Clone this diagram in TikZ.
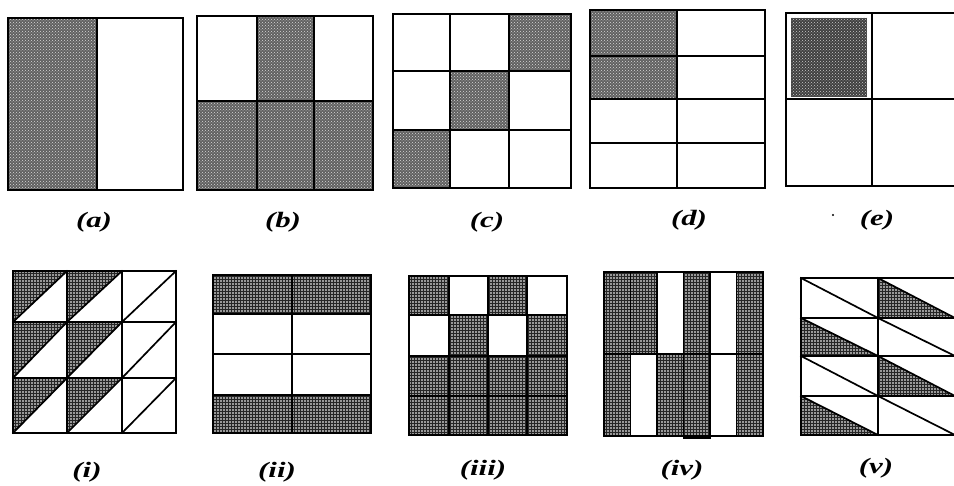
\documentclass[tikz,border=0pt]{standalone}
\usepackage{fontspec}
\setmainfont{Liberation Serif}
\usetikzlibrary{patterns}
\begin{document}
\begin{tikzpicture}[x=1pt,y=-1pt,
  frame/.style={line width=1.7pt, line cap=rect},
  shadeA/.style={fill=black!62, postaction={pattern=crosshatch dots, pattern color=white!85!black}},
  shadeE/.style={fill=black!75, postaction={pattern=crosshatch dots, pattern color=white!80!black}},
  shadeB/.style={fill=black!40, postaction={pattern=grid, pattern color=black!85}},
  lab/.style={font=\fontsize{22}{26}\selectfont\bfseries\itshape, inner sep=0pt, xscale=1.4}]
\useasboundingbox (0,0) rectangle (954,486);
\clip (0,0) rectangle (954,486);

% ---------- (a)
\fill[shadeA] (8,18) rectangle (97,190);
\draw[frame] (8,18) rectangle (183,190);
\draw[frame] (97,18) -- (97,190);
\node[lab] (la) at (94,222) {(a)};

% ---------- (b)
\fill[shadeA] (257,16) rectangle (314,101);
\fill[shadeA] (197,101) rectangle (373,190);
\draw[frame] (197,16) rectangle (373,190);
\draw[frame] (197,101) -- (373,101);
\draw[frame] (257,16) -- (257,190);
\draw[frame] (314,16) -- (314,190);
\node[lab] (lb) at (283,222) {(b)};

% ---------- (c)
\fill[shadeA] (509,14) rectangle (571,71);
\fill[shadeA] (450,71) rectangle (509,130);
\fill[shadeA] (393,130) rectangle (450,188);
\draw[frame] (393,14) rectangle (571,188);
\draw[frame] (450,14) -- (450,188);
\draw[frame] (509,14) -- (509,188);
\draw[frame] (393,71) -- (571,71);
\draw[frame] (393,130) -- (571,130);
\node[lab] (lc) at (487,222) {(c)};

% ---------- (d)
\fill[shadeA] (590,10) rectangle (677,99);
\draw[frame] (590,10) rectangle (765,188);
\draw[frame] (677,10) -- (677,188);
\draw[frame] (590,56) -- (765,56);
\draw[frame] (590,99) -- (765,99);
\draw[frame] (590,143) -- (765,143);
\node[lab] (ld) at (689,220) {(d)};

% ---------- (e)
\fill[shadeE] (791,18) rectangle (867,97);
\draw[frame] (786,13) rectangle (958,186);
\draw[frame] (872,13) -- (872,186);
\draw[frame] (786,99) -- (958,99);
\fill (833,215) circle (1.2);
\node[lab] (le) at (877,220) {(e)};

% ---------- (i)
\foreach \xa/\xb in {13/67,67/122}{
  \foreach \ya/\yb in {271/322,322/378,378/433}{
    \fill[shadeB] (\xa,\ya) -- (\xb,\ya) -- (\xa,\yb) -- cycle;
  }
}
\draw[frame] (13,271) rectangle (176,433);
\draw[frame] (67,271) -- (67,433);
\draw[frame] (122,271) -- (122,433);
\draw[frame] (13,322) -- (176,322);
\draw[frame] (13,378) -- (176,378);
\foreach \xa/\xb in {13/67,67/122,122/176}{
  \foreach \ya/\yb in {271/322,322/378,378/433}{
    \draw[frame] (\xa,\yb) -- (\xb,\ya);
  }
}
\node[lab] (li) at (87,472) {(i)};

% ---------- (ii)
\fill[shadeB] (213,275) rectangle (371,314);
\fill[shadeB] (213,395) rectangle (371,433);
\draw[frame] (213,275) rectangle (371,433);
\draw[frame] (213,314) -- (371,314);
\draw[frame] (213,354) -- (371,354);
\draw[frame] (213,395) -- (371,395);
\draw[frame] (292,275) -- (292,433);
\node[lab] (lii) at (277,472) {(ii)};

% ---------- (iii)
\fill[shadeB] (409,276) rectangle (449,315);
\fill[shadeB] (488,276) rectangle (527,315);
\fill[shadeB] (449,315) rectangle (488,356);
\fill[shadeB] (527,315) rectangle (567,356);
\fill[shadeB] (409,356) rectangle (567,435);
\draw[frame] (409,276) rectangle (567,435);
\foreach \xx in {449,488,527}{\draw[frame] (\xx,276) -- (\xx,435);}
\foreach \yy in {315,356,396}{\draw[frame] (409,\yy) -- (567,\yy);}
\node[lab] (liii) at (483,470) {(iii)};

% ---------- (iv)
\fill[shadeB] (604,272) rectangle (657,354);
\fill[shadeB] (683.5,272) rectangle (710,354);
\fill[shadeB] (736.5,272) rectangle (763,354);
\fill[shadeB] (604,354) rectangle (630.5,436);
\fill[shadeB] (657,354) rectangle (710,436);
\fill[shadeB] (736.5,354) rectangle (763,436);
\draw[frame] (604,272) rectangle (763,436);
\draw[frame] (604,354) -- (763,354);
\foreach \xx in {630.5,657,683.5,710,736.5}{\draw[frame] (\xx,272) -- (\xx,436);}
\draw[frame] (683.5,354) rectangle (710,438);
\node[lab] (liv) at (682,470) {(iv)};

% ---------- (v)
\fill[shadeB] (878,278) -- (878,318) -- (955,318) -- cycle;
\fill[shadeB] (801,318) -- (801,356) -- (878,356) -- cycle;
\fill[shadeB] (878,356) -- (878,396) -- (955,396) -- cycle;
\fill[shadeB] (801,396) -- (801,435) -- (878,435) -- cycle;
\draw[frame] (801,278) rectangle (955,435);
\draw[frame] (878,278) -- (878,435);
\foreach \yy in {318,356,396}{\draw[frame] (801,\yy) -- (955,\yy);}
\foreach \xa/\xb in {801/878,878/955}{
  \foreach \ya/\yb in {278/318,318/356,356/396,396/435}{
    \draw[frame] (\xa,\ya) -- (\xb,\yb);
  }
}
\node[lab] (lv) at (876,468) {(v)};
\end{tikzpicture}
\end{document}
